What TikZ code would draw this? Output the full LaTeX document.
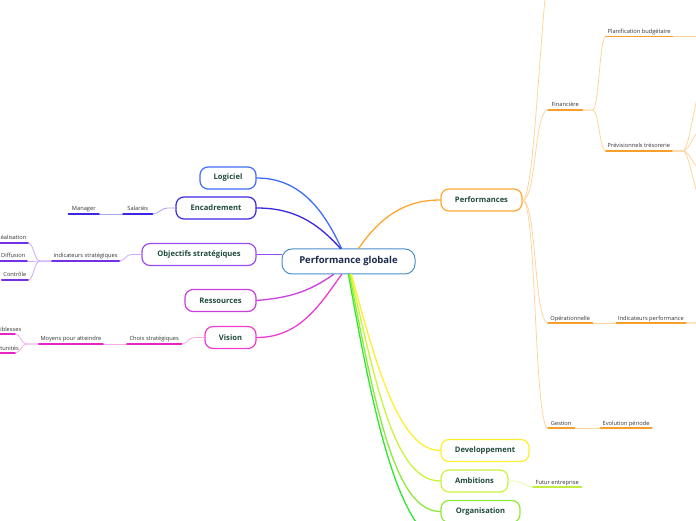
\documentclass[tikz,border=0pt]{standalone}
\usepackage{fontspec}
\setmainfont{Open Sans}
\usetikzlibrary{positioning}
\definecolor{ctrblue}{HTML}{4A8FCB}
\definecolor{txtgreen}{HTML}{1F4A3C}
\definecolor{txtnavy}{HTML}{1B2A4E}
\definecolor{cLog}{HTML}{3F6CFF}
\definecolor{cEnc}{HTML}{3A28E0}
\definecolor{lEnc}{HTML}{A8A2F6}
\definecolor{cObj}{HTML}{9A4DF5}
\definecolor{dObj}{HTML}{7430E4}
\definecolor{lObj}{HTML}{C9ABF8}
\definecolor{cRes}{HTML}{CC3DE0}
\definecolor{cVis}{HTML}{EE3CCF}
\definecolor{dVis}{HTML}{E824C6}
\definecolor{lVis}{HTML}{F5AAEA}
\definecolor{cPerf}{HTML}{FFA630}
\definecolor{dPerf}{HTML}{F79E2C}
\definecolor{lPerf}{HTML}{FDD59C}
\definecolor{cDev}{HTML}{FFEE30}
\definecolor{cAmb}{HTML}{C8F53A}
\definecolor{dAmb}{HTML}{C2EC3E}
\definecolor{lAmb}{HTML}{E6F8AA}
\definecolor{cOrg}{HTML}{8CEB3A}
\definecolor{cExt}{HTML}{2EE82E}
\begin{document}
\begin{tikzpicture}[x=1pt, y=1pt, line cap=round,
  main/.style = {draw, rounded corners=8pt, line width=1.2pt, minimum height=22pt, inner sep=0pt, fill=white, text=txtgreen, font=\bfseries\fontsize{7.6}{8}\selectfont},
  leaf/.style = {inner xsep=1.5pt, inner ysep=1.8pt, text height=4pt, text depth=1pt, text=black!80, font=\fontsize{5.7}{6}\selectfont},
  trunk/.style = {line width=1.3pt},
  under/.style = {line width=1.8pt},
  lite/.style = {line width=0.8pt},
  rcurve/.style = {out=0, in=180, distance=7pt},
  lcurve/.style = {out=180, in=0, distance=6pt}]
  \useasboundingbox (0,0) rectangle (696,520);

  \node[main, draw=ctrblue, line width=1pt, minimum width=133pt, minimum height=25pt, rounded corners=10pt, text=txtnavy, font=\bfseries\fontsize{9.5}{10}\selectfont] (pg) at (348.5,258.5) {Performance globale};
  \node[main, draw=cLog, minimum width=56pt] (log) at (228,342) {Logiciel};
  \node[main, draw=cEnc, minimum width=80pt] (enc) at (216,312) {Encadrement};
  \node[main, draw=cObj, minimum width=114pt] (obj) at (199,265.5) {Objectifs stratégiques};
  \node[main, draw=cRes, minimum width=71pt] (res) at (220.5,219.5) {Ressources};
  \node[main, draw=cVis, minimum width=51pt] (vis) at (230.5,182.5) {Vision};
  \node[main, draw=cPerf, minimum width=81pt] (perf) at (481.5,320) {Performances};
  \node[main, draw=cDev, minimum width=88pt] (dev) at (485,69.5) {Developpement};
  \node[main, draw=cAmb, minimum width=67pt] (amb) at (474.5,39) {Ambitions};
  \node[main, draw=cOrg, minimum width=79pt] (org) at (480.5,8.5) {Organisation};
  \coordinate (offext) at (452,-26);

  \draw[trunk, cLog] ([xshift=-7pt]pg.north) to[out=115,in=0] (log.east);
  \draw[trunk, cEnc] ([xshift=-8pt]pg.north) to[out=132,in=0] (enc.east);
  \draw[trunk, cObj] (obj.east) -- (obj.east -| pg.west);
  \draw[trunk, cRes] ([xshift=-15pt]pg.south) to[out=215,in=5] (res.east);
  \draw[trunk, cVis] ([xshift=-7pt]pg.south) to[out=235,in=0] (vis.east);
  \draw[trunk, cPerf] ([xshift=10pt]pg.north) to[out=55,in=180] (perf.west);
  \draw[trunk, cExt] ([xshift=0pt]pg.south) to[out=-80,in=180,out distance=160pt,in distance=50pt] (offext);
  \draw[trunk, cOrg] ([xshift=1pt]pg.south) to[out=-79,in=180,out distance=140pt,in distance=45pt] (org.west);
  \draw[trunk, cAmb] ([xshift=2pt]pg.south) to[out=-77,in=180,out distance=120pt,in distance=45pt] (amb.west);
  \draw[trunk, cDev] ([xshift=3pt]pg.south) to[out=-75,in=180,out distance=100pt,in distance=40pt] (dev.west);

  \node[leaf, anchor=south west, minimum width=29pt] (sal) at (123,306) {Salariés};
  \node[leaf, left=24pt of sal, minimum width=30pt] (man) {Manager};
  \node[leaf, anchor=south west, minimum width=66pt] (ind) at (52,259) {indicateurs stratégiques};
  \node[leaf, anchor=south east] (rea) at (28,277) {Réalisation};
  \node[leaf, anchor=south east] (dif) at (27,259) {Diffusion};
  \node[leaf, anchor=south east] (con) at (28,240) {Contrôle};
  \node[leaf, anchor=south west, minimum width=54pt] (cho) at (127,176) {Choix stratégiques};
  \node[leaf, left=24pt of cho, minimum width=63pt] (moy) {Moyens pour atteindre};
  \node[leaf, anchor=south east] (fai) at (23,186) {Faiblesses};
  \node[leaf, anchor=south east] (opp) at (20.5,167) {Opportunités};

  \node[leaf, anchor=south west, minimum width=34pt] (fin) at (548,410) {Financière};
  \node[leaf, anchor=south west, minimum width=66pt] (plan) at (606,483.5) {Planification budgétaire};
  \node[leaf, anchor=south west, minimum width=65pt] (prev) at (606,369) {Prévisionnels trésorerie};
  \node[leaf, anchor=south west, minimum width=44pt] (ope) at (548,197) {Opérationnelle};
  \node[leaf, right=24pt of ope, minimum width=67pt] (indp) {Indicateurs performance};
  \node[leaf, anchor=south west, minimum width=26pt] (ges) at (548,92) {Gestion};
  \node[leaf, right=26pt of ges, minimum width=51pt] (evo) {Evolution période};
  \node[leaf, anchor=south west, minimum width=48pt] (fut) at (533,33) {Futur entreprise};

  \coordinate (offtop) at (556,580);
  \coordinate (offplan) at (706,483.5);
  \coordinate (offpa) at (702,431);
  \coordinate (offpb) at (702,391);
  \coordinate (offpc) at (702,350);
  \coordinate (offpd) at (702,320);
  \coordinate (offia) at (704,184);
  \coordinate (offib) at (704,210);

  \draw[lite, lEnc] (enc.west) -- ++(-8,0) to[lcurve] (sal.south east);
  \draw[lite, lEnc] (sal.south west) -- (man.south east);
  \draw[under, cEnc] (sal.south west) -- (sal.south east);
  \draw[under, cEnc] (man.south west) -- (man.south east);

  \draw[lite, lObj] (obj.west) -- ++(-10,0) to[lcurve] (ind.south east);
  \draw[lite, lObj] (ind.south west) -- ++(-12,0) to[lcurve] (rea.south east);
  \draw[lite, lObj] (ind.south west) -- ++(-12,0) to[lcurve] (dif.south east);
  \draw[lite, lObj] (ind.south west) -- ++(-12,0) to[lcurve] (con.south east);
  \draw[under, dObj] (ind.south west) -- (ind.south east);
  \draw[under, dObj] (rea.south west) -- (rea.south east);
  \draw[under, dObj] (dif.south west) -- (dif.south east);
  \draw[under, dObj] (con.south west) -- (con.south east);

  \draw[lite, lVis] (vis.west) -- ++(-10,0) to[lcurve] (cho.south east);
  \draw[lite, lVis] (cho.south west) -- (moy.south east);
  \draw[lite, lVis] (moy.south west) -- ++(-12,0) to[lcurve] ([xshift=-8pt]fai.south east);
  \draw[lite, lVis] (moy.south west) -- ++(-12,0) to[lcurve] ([xshift=-5.5pt]opp.south east);
  \draw[under, dVis] (cho.south west) -- (cho.south east);
  \draw[under, dVis] (moy.south west) -- (moy.south east);
  \draw[under, dVis] (fai.south west) -- ([xshift=-8pt]fai.south east);
  \draw[under, dVis] (opp.south west) -- ([xshift=-5.5pt]opp.south east);

  \draw[lite, lPerf] (perf.east) to[out=0,in=180,distance=14pt] (offtop);
  \draw[lite, lPerf] (perf.east) to[out=0,in=180,distance=14pt] (fin.south west);
  \draw[lite, lPerf] (perf.east) to[out=0,in=180,distance=14pt] (ope.south west);
  \draw[lite, lPerf] (perf.east) to[out=0,in=180,distance=14pt] (ges.south west);
  \draw[lite, lPerf] (fin.south east) -- ++(10,0) to[rcurve] (plan.south west);
  \draw[lite, lPerf] (fin.south east) -- ++(10,0) to[rcurve] (prev.south west);
  \draw[lite, lPerf] (plan.south east) -- (offplan);
  \draw[lite, lPerf] (prev.south east) -- ++(11,0) to[rcurve] (offpa);
  \draw[lite, lPerf] (prev.south east) -- ++(11,0) to[rcurve] (offpb);
  \draw[lite, lPerf] (prev.south east) -- ++(11,0) to[rcurve] (offpc);
  \draw[lite, lPerf] (prev.south east) -- ++(11,0) to[rcurve] (offpd);
  \draw[lite, lPerf] (ope.south east) -- (indp.south west);
  \draw[lite, lPerf] (indp.south east) -- ++(9,0) to[rcurve] (offia);
  \draw[lite, lPerf] (indp.south east) -- ++(9,0) to[rcurve] (offib);
  \draw[lite, lPerf] (ges.south east) -- (evo.south west);
  \draw[under, dPerf] (fin.south west) -- (fin.south east);
  \draw[under, dPerf] (plan.south west) -- (plan.south east);
  \draw[under, dPerf] (prev.south west) -- (prev.south east);
  \draw[under, dPerf] (ope.south west) -- (ope.south east);
  \draw[under, dPerf] (indp.south west) -- (indp.south east);
  \draw[under, dPerf] (ges.south west) -- (ges.south east);
  \draw[under, dPerf] (evo.south west) -- (evo.south east);

  \draw[lite, lAmb] (amb.east) -- ++(6,0) to[rcurve] (fut.south west);
  \draw[under, dAmb] (fut.south west) -- (fut.south east);
\end{tikzpicture}
\end{document}
